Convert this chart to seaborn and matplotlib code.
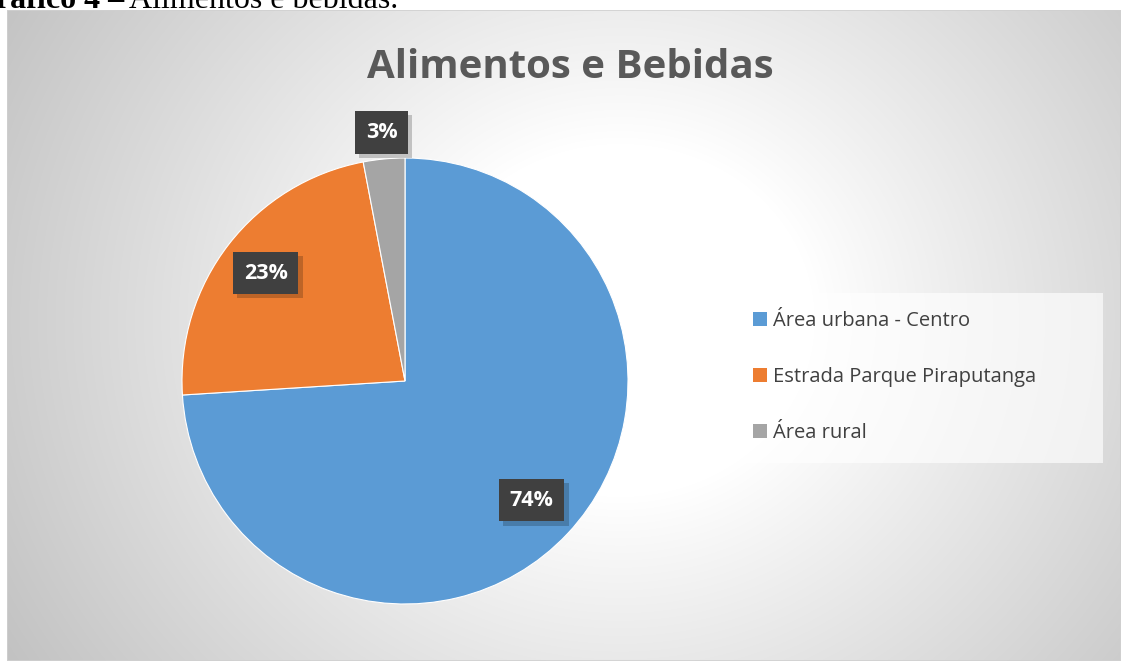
import numpy as np
import matplotlib
matplotlib.use("Agg")
import matplotlib.pyplot as plt
import matplotlib.patheffects as pe
from matplotlib.patches import Rectangle, Patch
import seaborn as sns

# ---- data ----
categories = ["Área urbana - Centro", "Estrada Parque Piraputanga", "Área rural"]
values = [74, 23, 3]
pct_labels = ["74%", "23%", "3%"]
title = "Alimentos e Bebidas"
caption_bold = "Gráfico 4 –"
caption_rest = "Alimentos e bebidas."

sns.set_style("white")
colors = ["#5B9BD5", "#ED7D31", "#A5A5A5"]

W, H = 1121, 661
fig = plt.figure(figsize=(W / 100, H / 100), dpi=100)
fig.patch.set_facecolor("white")

def fx(px):
    return px / W

def fy(py):
    return 1 - py / H

# ---- background gradient for chart area ----
x0, y0, x1, y1 = 7, 10, W, H
bg = fig.add_axes([fx(x0), fy(y1), fx(x1 - x0), (y1 - y0) / H], zorder=0)
gx, gy = np.meshgrid(np.arange(x0, x1), np.arange(y0, y1))
cx, cy = 620, 320
d = np.hypot(gx - cx, (gy - cy) * 1.1)
dmax = np.hypot(cx - x0, (y1 - cy) * 1.1)
t = np.clip((d / dmax - 0.27) / 0.73, 0, 1) ** 0.95
val = 1.0 - (1.0 - 0.76) * t
img = np.dstack([val, val, val])
bg.imshow(img, aspect="auto", extent=[0, 1, 0, 1], origin="upper")
bg.set_xlim(0, 1)
bg.set_ylim(0, 1)
bg.axis("off")
bg.add_patch(Rectangle((0, 0), 1, 1, fill=False, edgecolor="#d0d0d0", lw=1.2,
                       transform=bg.transAxes))

# ---- caption (cut off at top, as in the source screenshot) ----
fig.text(fx(124), fy(8), caption_bold, ha="right", va="baseline",
         family="Liberation Serif", fontweight="bold", fontsize=23, color="black")
fig.text(fx(129), fy(8), caption_rest, ha="left", va="baseline",
         family="Liberation Serif", fontsize=23, color="black")

# ---- title ----
fig.text(fx(570), fy(78), title, ha="center", va="baseline",
         family="Open Sans", fontweight="bold", fontsize=29, color="#595959")

# ---- pie ----
pcx, pcy, R = 405, 381, 223
ax = fig.add_axes([fx(pcx - R), fy(pcy + R), 2 * R / W, 2 * R / H], zorder=2)
wedges, _ = ax.pie(values, colors=colors, startangle=90, counterclock=False,
                   radius=1.0, wedgeprops=dict(edgecolor="white", linewidth=0.8))
ax.set_xlim(-1, 1)
ax.set_ylim(-1, 1)
ax.set_aspect("equal")
ax.axis("off")

label_r = [0.78, 0.79, 1.12]
for w, lab, r in zip(wedges, pct_labels, label_r):
    ang = np.deg2rad((w.theta1 + w.theta2) / 2)
    txt = ax.text(r * np.cos(ang), r * np.sin(ang), lab, ha="center", va="center",
                  family="Open Sans", fontweight="bold", fontsize=15.5, color="white",
                  bbox=dict(boxstyle="square,pad=0.5", facecolor="#404040",
                            edgecolor="none"), zorder=5, clip_on=False)
    txt.get_bbox_patch().set_path_effects([
        pe.SimplePatchShadow(offset=(3, -3), shadow_rgbFace="black", alpha=0.2),
        pe.Normal()])

# ---- legend ----
lbx0, lby0, lbx1, lby1 = 693, 293, 1103, 463
fig.patches.append(Rectangle((fx(lbx0), fy(lby1)), fx(lbx1 - lbx0), (lby1 - lby0) / H,
                             transform=fig.transFigure, facecolor="white", alpha=0.65,
                             edgecolor="none", zorder=1))
handles = [Patch(facecolor=c, edgecolor="none") for c in colors]
leg = fig.legend(handles, categories, loc="center left",
                 bbox_to_anchor=(fx(753), fy(377)), frameon=False,
                 prop=dict(family="Open Sans", size=14.5),
                 labelcolor="#404040", handlelength=0.7, handleheight=0.68,
                 handletextpad=0.3, labelspacing=1.78, borderpad=0, borderaxespad=0)
leg.set_zorder(3)

fig.savefig("out.png", dpi=100)
